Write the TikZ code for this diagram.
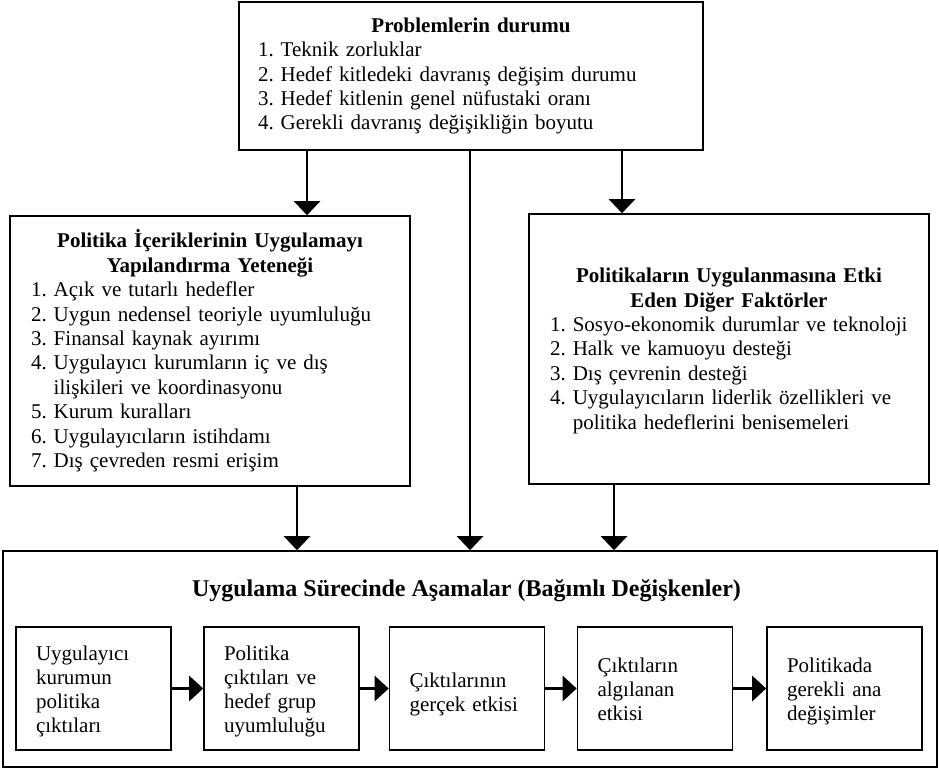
\documentclass[tikz,border=0pt]{standalone}
\usepackage{fontspec}
\setmainfont{Liberation Serif}
\usetikzlibrary{arrows.meta}
\frenchspacing
\begin{document}
\frenchspacing
\begin{tikzpicture}[x=1pt,y=-1pt,
  every node/.style={font=\fontsize{21}{24.4}\selectfont},
  box/.style={draw, line width=1.6pt, rectangle, inner ysep=0pt},
  bigbox/.style={box, text width=358pt, inner xsep=21pt, minimum height=270pt},
  sbox/.style={box, text width=115pt, inner xsep=20pt, minimum height=123pt, align=left,
    font=\fontsize{21}{24.2}\selectfont},
  four/.style={text height=15.6pt, text depth=72.6pt},
  three/.style={text height=15.4pt, text depth=48.4pt},
  two/.style={text height=21.2pt, text depth=24.2pt},
  arr/.style={line width=2.5pt, -{Triangle[length=14pt,width=26pt]}},
  harr/.style={line width=2.8pt, -{Triangle[length=14pt,width=25pt]}}
]
\useasboundingbox (0,0) rectangle (939,768);

% top box
\node[box, text width=426pt, inner xsep=19pt, minimum height=148pt] (top) at (471,76)
{{\centering\bfseries Problemlerin durumu\par}\raggedright
\mbox{1. Teknik zorluklar}\\
\mbox{2. Hedef kitledeki davranış değişim durumu}\\
\mbox{3. Hedef kitlenin genel nüfustaki oranı}\\
\mbox{4. Gerekli davranış değişikliğin boyutu}};

% left box
\node[bigbox] (left) at (210,351)
{{\centering\bfseries Politika İçeriklerinin Uygulamayı\\Yapılandırma Yeteneği\par}\raggedright
\mbox{1. Açık ve tutarlı hedefler}\\
\mbox{2. Uygun nedensel teoriyle uyumluluğu}\\
\mbox{3. Finansal kaynak ayırımı}\\
\mbox{4. Uygulayıcı kurumların iç ve dış}\\
\mbox{\hphantom{4.\ }ilişkileri ve koordinasyonu}\\
\mbox{5. Kurum kuralları}\\
\mbox{6. Uygulayıcıların istihdamı}\\
\mbox{7. Dış çevreden resmi erişim}};

% right box
\node[bigbox, text height=18.4pt] (right) at (729,349)
{{\centering\bfseries Politikaların Uygulanmasına Etki\\Eden Diğer Faktörler\par}\raggedright
\mbox{1. Sosyo-ekonomik durumlar ve teknoloji}\\
\mbox{2. Halk ve kamuoyu desteği}\\
\mbox{3. Dış çevrenin desteği}\\
\mbox{4. Uygulayıcıların liderlik özellikleri ve}\\
\mbox{\hphantom{4.\ }politika hedeflerini benisemeleri}};

% outer bottom box
\node[box, minimum width=934pt, minimum height=216pt, inner sep=0pt] (outer) at (470,659) {};
\node[font=\fontsize{24}{28}\selectfont\bfseries, anchor=base, inner sep=0pt] (ttl) at (466.5,596)
{Uygulama Sürecinde Aşamalar (Bağımlı Değişkenler)};

% stage boxes
\node[sbox, four] (s1) at (93.5,688.5) {Uygulayıcı\\kurumun\\politika\\çıktıları};
\node[sbox, four] (s2) at (281.5,688.5) {Politika\\çıktıları ve\\hedef grup\\uyumluluğu};
\node[sbox, two] (s3) at (467,688.5) {Çıktılarının\\gerçek etkisi};
\node[sbox, three] (s4) at (655,688.5) {Çıktıların\\algılanan\\etkisi};
\node[sbox, three] (s5) at (844.5,688.5) {Politikada\\gerekli ana\\değişimler};

% connectors
\coordinate (xl) at (307,0);
\coordinate (xr) at (622,0);
\coordinate (xld) at (297,0);
\coordinate (xrd) at (614,0);
\coordinate (xm) at (470,0);
\draw[arr] (xl |- top.south) -- (xl |- left.north);
\draw[arr] (xr |- top.south) -- (xr |- right.north);
\draw[arr] (xm |- top.south) -- (xm |- outer.north);
\draw[arr] (xld |- left.south) -- (xld |- outer.north);
\draw[arr] (xrd |- right.south) -- (xrd |- outer.north);

\draw[harr] (s1.east) -- (s2.west);
\draw[harr] (s2.east) -- (s3.west);
\draw[harr] (s3.east) -- (s4.west);
\draw[harr] (s4.east) -- (s5.west);
\end{tikzpicture}
\end{document}
